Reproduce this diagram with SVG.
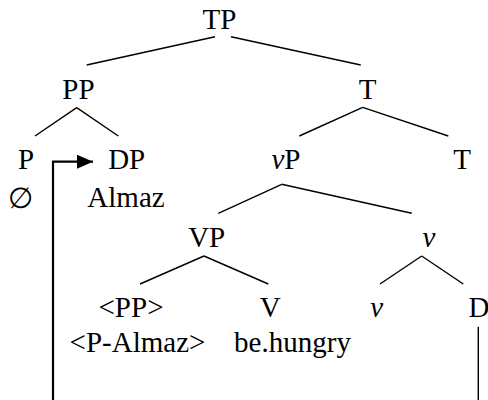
<svg xmlns="http://www.w3.org/2000/svg" width="488" height="400" viewBox="0 0 488 400">
<style>
text{font-family:'Liberation Serif','Times New Roman','DejaVu Serif',serif;font-size:29px;fill:#000;text-anchor:middle}
.i{font-style:italic}
.e{stroke:#000;stroke-width:1.4;fill:none}
.mv{stroke:#000;stroke-width:2.2;fill:none}
</style>
<defs>
<marker id="ah" viewBox="0 0 16 14" refX="16" refY="7" markerWidth="16" markerHeight="14" markerUnits="userSpaceOnUse" orient="auto">
<path d="M0,0 L16,7 L0,14 Z" fill="#000"/>
</marker>
</defs>
<g id="edges">
<line class="e" x1="215" y1="36.7" x2="86.7" y2="65"/>
<line class="e" x1="231" y1="36.7" x2="360.7" y2="65"/>
<line class="e" x1="76.7" y1="107.7" x2="35" y2="136"/>
<line class="e" x1="76.7" y1="107.7" x2="118.3" y2="136"/>
<line class="e" x1="362.7" y1="107.3" x2="299.3" y2="136"/>
<line class="e" x1="362.7" y1="107.3" x2="448.3" y2="136"/>
<line class="e" x1="281.7" y1="184.3" x2="218.3" y2="213.3"/>
<line class="e" x1="281.7" y1="184.3" x2="411.7" y2="213.3"/>
<line class="e" x1="204" y1="256" x2="140" y2="284"/>
<line class="e" x1="204" y1="256" x2="268.3" y2="284"/>
<line class="e" x1="421.7" y1="256" x2="380" y2="284"/>
<line class="e" x1="421.7" y1="256" x2="463.3" y2="284"/>
<line class="e" x1="478.3" y1="326.7" x2="478.3" y2="400"/>
<polyline class="mv" points="53,400 53,161.7 93,161.7" marker-end="url(#ah)"/>
</g>
<g id="TP"><text x="219.5" y="29">TP</text></g>
<g id="PP"><text x="78.5" y="99">PP</text></g>
<g id="T1"><text x="367.5" y="99">T</text></g>
<g id="P"><text x="26" y="169">P</text><text x="20" y="208">∅</text></g>
<g id="DP"><text x="126.7" y="169">DP</text><text x="126" y="207">Almaz</text></g>
<g id="vP"><text x="286" y="169"><tspan class="i">v</tspan>P</text></g>
<g id="T2"><text x="462" y="169">T</text></g>
<g id="VP"><text x="206.7" y="246.7">VP</text></g>
<g id="v1"><text x="429" y="246.7" class="i">v</text></g>
<g id="PPt"><text x="131" y="317.3">&lt;PP&gt;</text><text x="137.5" y="351.7">&lt;P-Almaz&gt;</text></g>
<g id="V"><text x="270.3" y="317.3">V</text><text x="292.5" y="351.7">be.hungry</text></g>
<g id="v2"><text x="376.7" y="317.3" class="i">v</text></g>
<g id="D"><text x="479" y="317.3">D</text></g>
</svg>
